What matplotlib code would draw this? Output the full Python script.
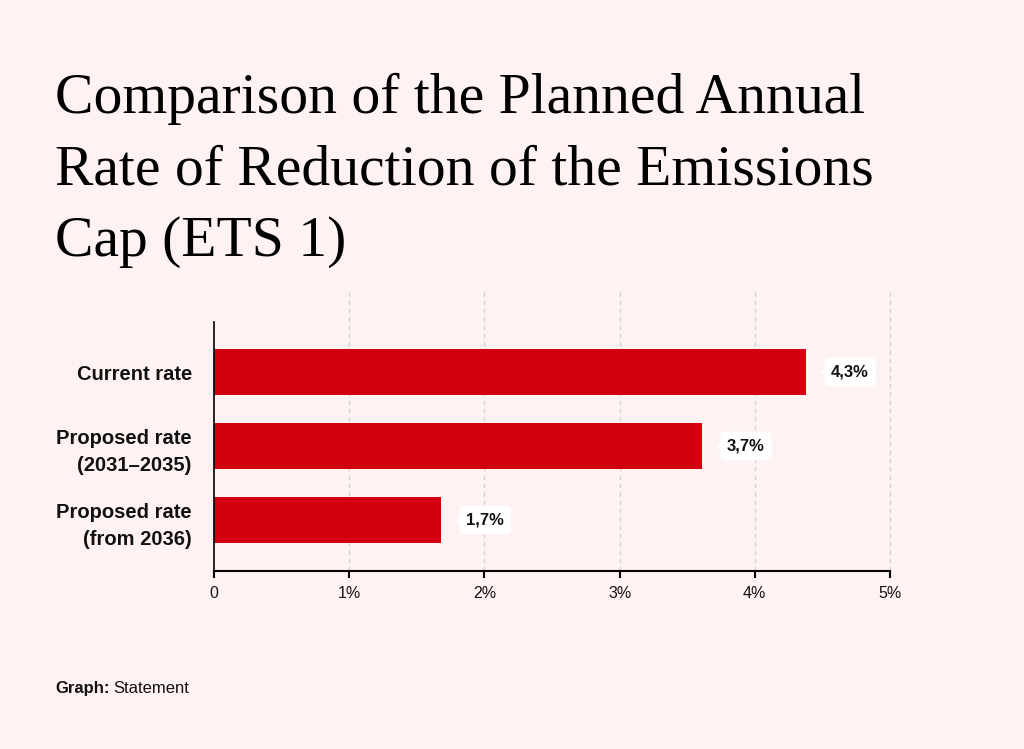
import matplotlib
matplotlib.use("Agg")
import matplotlib.pyplot as plt
from matplotlib.transforms import offset_copy

# ---- data ----
categories = ["Current rate", "Proposed rate\n(2031–2035)", "Proposed rate\n(from 2036)"]
values = [4.38, 3.61, 1.68]
value_labels = ["4,3%", "3,7%", "1,7%"]
xticks = [0, 1, 2, 3, 4, 5]
xtick_labels = ["0", "1%", "2%", "3%", "4%", "5%"]
title_lines = ["Comparison of the Planned Annual",
               "Rate of Reduction of the Emissions",
               "Cap (ETS 1)"]

BG = "#FFF2F2"
BAR = "#D2000E"
W, H = 1024, 749

fig = plt.figure(figsize=(W / 100, H / 100), dpi=100, facecolor=BG)

def fx(px):
    return px / W

def fy(py):
    return 1 - py / H

ax = fig.add_axes([fx(214), fy(571), fx(890) - fx(214), fy(322) - fy(571)])
ax.set_facecolor(BG)

ypos = list(range(len(categories)))
ax.barh(ypos, values, height=0.62, color=BAR, zorder=3)
ax.set_xlim(0, 5)
ax.set_ylim(2 + 51 / 74, -50 / 74)

# grid lines (extend above the axes)
for xv in xticks[1:]:
    ax.axvline(xv, ymin=0, ymax=1 + 34 / 249, color="#D8D0D0", lw=1.0,
               ls=(0, (3, 3)), clip_on=False, zorder=1)

for s in ["top", "right"]:
    ax.spines[s].set_visible(False)
ax.spines["left"].set_linewidth(1.2)
ax.spines["bottom"].set_linewidth(1.5)
ax.spines["left"].set_zorder(4)
ax.spines["bottom"].set_zorder(4)

ax.set_xticks(xticks)
ax.set_xticklabels(xtick_labels, fontsize=11.5, family="Liberation Sans", color="#111111")
ax.tick_params(axis="x", length=5, width=1.5, pad=6, color="black")
ax.set_yticks(ypos)
ax.set_yticklabels(categories, fontsize=14.5, fontweight="bold", family="Liberation Sans",
                   color="#111111", linespacing=1.5)
ax.tick_params(axis="y", length=0, pad=16)

# value labels with pointer boxes
pointer = [(-5, 0), (0, 4), (0, -4)]
for y, v, lab in zip(ypos, values, value_labels):
    tr_tip = offset_copy(ax.transData, fig=fig, x=18.5, y=0, units="dots")
    tr_txt = offset_copy(ax.transData, fig=fig, x=25, y=0, units="dots")
    ax.plot([v], [y], marker=pointer, markersize=7.2, color="white", transform=tr_tip,
            clip_on=False, zorder=7, markeredgewidth=0)
    ax.text(v, y, lab, transform=tr_txt, ha="left", va="center",
            fontsize=12, fontweight="bold", family="Liberation Sans", color="#111111",
            bbox=dict(boxstyle="round,pad=0.4,rounding_size=0.25", fc="white", ec="none"),
            zorder=6, clip_on=False)

# title
for i, line in enumerate(title_lines):
    fig.text(fx(55), fy(113 + 71.5 * i), line, ha="left", va="baseline",
             fontsize=41.5, family="Liberation Serif", color="black")

# footer
t1 = fig.text(fx(55), fy(693), "Graph:", ha="left", va="baseline", fontsize=12,
              fontweight="bold", family="Liberation Sans", color="#111111")
fig.canvas.draw()
bb = t1.get_window_extent()
fig.text((bb.x1 + 4) / W, fy(693), "Statement", ha="left", va="baseline", fontsize=12,
         family="Liberation Sans", color="#111111")

fig.savefig("out.png", dpi=100, facecolor=BG)
